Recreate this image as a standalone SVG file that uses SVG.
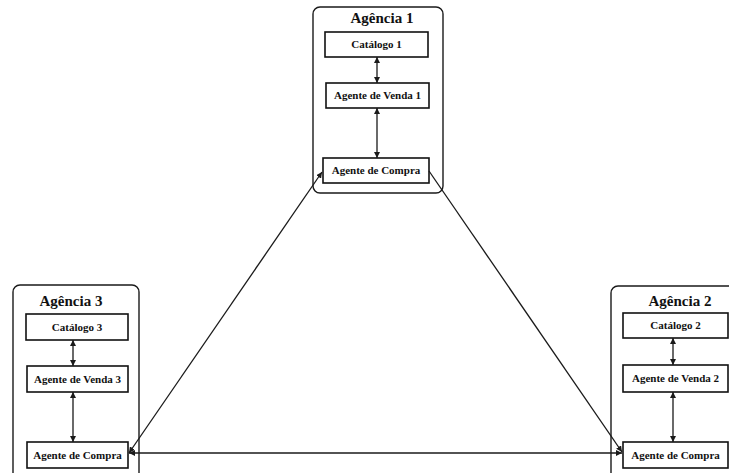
<svg xmlns="http://www.w3.org/2000/svg" width="729" height="473" viewBox="0 0 729 473">
  <style>
    .agency { fill: #ffffff; stroke: #1a1a1a; stroke-width: 1.4; }
    .box { fill: #ffffff; stroke: #111111; stroke-width: 1.6; }
    .title { font-family: "Liberation Serif", "Times New Roman", serif; font-weight: bold; font-size: 15px; fill: #111111; text-anchor: middle; }
    .label { font-family: "Liberation Serif", "Times New Roman", serif; font-weight: bold; font-size: 11px; fill: #111111; text-anchor: middle; }
    .link { fill: none; stroke: #1a1a1a; stroke-width: 1.3; }
  </style>
  <defs>
    <marker id="arrow" viewBox="0 0 10 10" refX="10" refY="5" markerWidth="6" markerHeight="6" markerUnits="userSpaceOnUse" orient="auto-start-reverse">
      <path d="M0,0 L10,5 L0,10 z" fill="#1a1a1a"/>
    </marker>
  </defs>
  <rect width="729" height="473" fill="#ffffff"/>

  <!-- Agência 1 -->
  <g id="agencia-1">
    <rect class="agency" x="313" y="7" width="130" height="186" rx="7"/>
    <text class="title" x="382" y="23">Agência 1</text>
  </g>
  <g id="catalogo-1">
    <rect class="box" x="325" y="32" width="103" height="25"/>
    <text class="label" x="376.5" y="48">Catálogo 1</text>
  </g>
  <g id="venda-1">
    <rect class="box" x="326" y="83" width="103" height="25"/>
    <text class="label" x="377.5" y="99">Agente de Venda 1</text>
  </g>
  <g id="compra-1">
    <rect class="box" x="323" y="158" width="106" height="25"/>
    <text class="label" x="376" y="174">Agente de Compra</text>
  </g>

  <!-- Agência 3 -->
  <g id="agencia-3">
    <rect class="agency" x="13" y="285" width="126" height="200" rx="7"/>
    <text class="title" x="71" y="306">Agência 3</text>
  </g>
  <g id="catalogo-3">
    <rect class="box" x="26" y="314" width="102" height="26"/>
    <text class="label" x="77" y="330.5">Catálogo 3</text>
  </g>
  <g id="venda-3">
    <rect class="box" x="27" y="366" width="101" height="26"/>
    <text class="label" x="77.5" y="382.5">Agente de Venda 3</text>
  </g>
  <g id="compra-3">
    <rect class="box" x="27" y="442" width="101" height="26"/>
    <text class="label" x="77.5" y="458.5">Agente de Compra</text>
  </g>

  <!-- Agência 2 -->
  <g id="agencia-2">
    <rect class="agency" x="611" y="286" width="130" height="200" rx="7"/>
    <text class="title" x="680" y="306">Agência 2</text>
  </g>
  <g id="catalogo-2">
    <rect class="box" x="623" y="313" width="105" height="25"/>
    <text class="label" x="675.5" y="329">Catálogo 2</text>
  </g>
  <g id="venda-2">
    <rect class="box" x="623" y="365" width="105" height="27"/>
    <text class="label" x="675.5" y="382">Agente de Venda 2</text>
  </g>
  <g id="compra-2">
    <rect class="box" x="623" y="442" width="105" height="26"/>
    <text class="label" x="675.5" y="458.5">Agente de Compra</text>
  </g>

  <!-- Connectors -->
  <g id="connectors">
    <line class="link" x1="377" y1="57" x2="377" y2="83" marker-start="url(#arrow)" marker-end="url(#arrow)"/>
    <line class="link" x1="377" y1="108" x2="377" y2="158" marker-start="url(#arrow)" marker-end="url(#arrow)"/>
    <line class="link" x1="73" y1="340" x2="73" y2="366" marker-start="url(#arrow)" marker-end="url(#arrow)"/>
    <line class="link" x1="73" y1="392" x2="73" y2="442" marker-start="url(#arrow)" marker-end="url(#arrow)"/>
    <line class="link" x1="673" y1="338" x2="673" y2="365" marker-start="url(#arrow)" marker-end="url(#arrow)"/>
    <line class="link" x1="673" y1="392" x2="673" y2="442" marker-start="url(#arrow)" marker-end="url(#arrow)"/>
    <line class="link" x1="322" y1="172" x2="129" y2="453" marker-start="url(#arrow)" marker-end="url(#arrow)"/>
    <line class="link" x1="429" y1="171" x2="622" y2="452" marker-end="url(#arrow)"/>
    <line class="link" x1="129" y1="453" x2="622" y2="453" marker-start="url(#arrow)" marker-end="url(#arrow)"/>
  </g>
</svg>
